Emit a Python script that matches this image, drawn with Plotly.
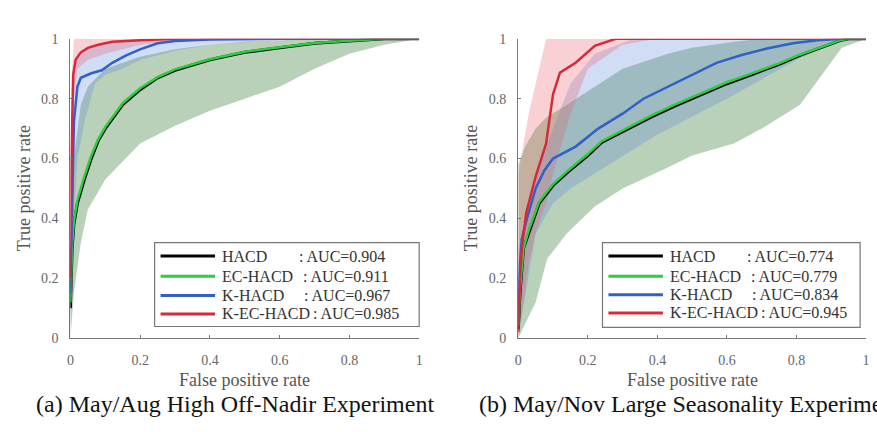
import plotly.graph_objects as go

W, H = 877, 432

# ---------------- data: panel (a) ----------------
a_hacd_x = [0, 0.005, 0.01, 0.02, 0.04, 0.06, 0.08, 0.1, 0.15, 0.2, 0.25, 0.3, 0.4, 0.5, 0.6, 0.7, 0.8, 0.9, 1]
a_hacd_y = [0.1, 0.3, 0.38, 0.45, 0.53, 0.6, 0.66, 0.7, 0.78, 0.83, 0.87, 0.895, 0.93, 0.955, 0.97, 0.985, 0.993, 1, 1]
a_ec_x = [0, 0.005, 0.01, 0.02, 0.04, 0.06, 0.08, 0.1, 0.15, 0.2, 0.25, 0.3, 0.4, 0.5, 0.6, 0.7, 0.8, 0.9, 1]
a_ec_y = [0.12, 0.31, 0.39, 0.46, 0.54, 0.61, 0.665, 0.705, 0.785, 0.835, 0.872, 0.898, 0.932, 0.957, 0.972, 0.986, 0.994, 1, 1]
a_k_x = [0, 0.005, 0.01, 0.02, 0.03, 0.06, 0.09, 0.12, 0.16, 0.2, 0.25, 0.3, 0.4, 0.6, 1]
a_k_y = [0.15, 0.5, 0.72, 0.84, 0.87, 0.885, 0.895, 0.92, 0.945, 0.965, 0.985, 0.993, 0.998, 1, 1]
a_kec_x = [0, 0.003, 0.008, 0.015, 0.03, 0.05, 0.08, 0.12, 0.2, 0.3, 1]
a_kec_y = [0.2, 0.6, 0.88, 0.93, 0.955, 0.97, 0.98, 0.99, 0.995, 1, 1]

a_gband_x = [0, 0.01, 0.03, 0.05, 0.1, 0.2, 0.3, 0.4, 0.5, 0.6, 0.7, 0.8, 0.9, 1]
a_gband_lo = [0, 0.15, 0.32, 0.43, 0.53, 0.65, 0.71, 0.76, 0.8, 0.84, 0.9, 0.95, 0.98, 1]
a_gband_hi = [0.3, 0.6, 0.78, 0.84, 0.9, 0.94, 0.965, 0.98, 0.99, 0.995, 1, 1, 1, 1]
a_bband_x = [0, 0.01, 0.02, 0.04, 0.07, 0.1, 0.15, 0.2, 0.3, 0.4, 0.6, 1]
a_bband_lo = [0, 0.4, 0.6, 0.72, 0.85, 0.88, 0.9, 0.93, 0.96, 0.98, 0.995, 1]
a_bband_hi = [0.4, 0.9, 0.93, 0.96, 0.975, 0.985, 0.993, 1, 1, 1, 1, 1]
a_rband_x = [0, 0.005, 0.01, 0.02, 0.05, 0.1, 0.2, 0.3, 0.4, 1]
a_rband_lo = [0, 0.5, 0.8, 0.9, 0.93, 0.95, 0.98, 0.995, 1, 1]
a_rband_hi = [0.5, 0.9, 1, 1, 1, 1, 1, 1, 1, 1]

# ---------------- data: panel (b) ----------------
b_hacd_x = [0, 0.005, 0.015, 0.03, 0.06, 0.1, 0.145, 0.2, 0.24, 0.3, 0.385, 0.45, 0.53, 0.6, 0.67, 0.75, 0.81, 0.87, 0.925, 0.95, 1]
b_hacd_y = [0.03, 0.15, 0.3, 0.35, 0.45, 0.51, 0.557, 0.61, 0.654, 0.69, 0.74, 0.775, 0.816, 0.85, 0.88, 0.915, 0.945, 0.97, 0.994, 1, 1]
b_ec_x = [0, 0.005, 0.015, 0.03, 0.06, 0.1, 0.145, 0.2, 0.24, 0.3, 0.385, 0.45, 0.53, 0.6, 0.67, 0.75, 0.81, 0.87, 0.925, 0.95, 1]
b_ec_y = [0.04, 0.16, 0.3, 0.36, 0.455, 0.515, 0.562, 0.615, 0.658, 0.695, 0.745, 0.78, 0.82, 0.855, 0.884, 0.918, 0.947, 0.972, 0.995, 1, 1]
b_k_x = [0, 0.005, 0.01, 0.025, 0.05, 0.075, 0.1, 0.165, 0.23, 0.3, 0.36, 0.43, 0.5, 0.57, 0.64, 0.715, 0.79, 0.86, 0.93, 1]
b_k_y = [0.1, 0.25, 0.33, 0.4, 0.5, 0.56, 0.6, 0.64, 0.7, 0.75, 0.8, 0.84, 0.88, 0.92, 0.945, 0.968, 0.985, 0.995, 1, 1]
b_kec_x = [0, 0.005, 0.01, 0.023, 0.05, 0.08, 0.1, 0.12, 0.165, 0.22, 0.28, 1]
b_kec_y = [0.02, 0.2, 0.3, 0.42, 0.54, 0.65, 0.815, 0.887, 0.92, 0.977, 1, 1]

b_gband_x = [0, 0.02, 0.05, 0.083, 0.14, 0.22, 0.3, 0.43, 0.5, 0.62, 0.7, 0.81, 0.93, 1]
b_gband_lo = [0, 0.05, 0.12, 0.265, 0.35, 0.44, 0.5, 0.57, 0.61, 0.65, 0.7, 0.78, 0.97, 1]
b_gband_hi = [0.58, 0.64, 0.7, 0.74, 0.78, 0.84, 0.9, 0.95, 0.97, 0.99, 1, 1, 1, 1]
b_bband_x = [0, 0.05, 0.1, 0.15, 0.22, 0.33, 0.4, 0.6, 0.8, 0.93, 1]
b_bband_lo = [0, 0.35, 0.45, 0.5, 0.55, 0.63, 0.68, 0.8, 0.93, 1, 1]
b_bband_hi = [0.3, 0.55, 0.7, 0.85, 0.95, 1, 1, 1, 1, 1, 1]
b_rband_x = [0, 0.03, 0.05, 0.08, 0.1, 0.15, 0.2, 0.3, 0.4, 1]
b_rband_lo = [0, 0.25, 0.35, 0.45, 0.55, 0.75, 0.9, 0.98, 1, 1]
b_rband_hi = [0.55, 0.75, 0.85, 1, 1, 1, 1, 1, 1, 1]

method_names = ["HACD", "EC-HACD", "K-HACD", "K-EC-HACD"]
a_auc = ["0.904", "0.911", "0.967", "0.985"]
b_auc = ["0.774", "0.779", "0.834", "0.945"]
line_colors = ["#000000", "#2ecc40", "#3060c8", "#d8283a"]

tick_vals = [0, 0.2, 0.4, 0.6, 0.8, 1]
tick_text = ["0", "0.2", "0.4", "0.6", "0.8", "1"]

SERIF = "Liberation Serif, Times New Roman, serif"

fig = go.Figure()


def band(x, lo, hi, color, xa, ya):
    fig.add_trace(go.Scatter(
        x=list(x) + list(x)[::-1], y=list(hi) + list(lo)[::-1],
        fill="toself", fillcolor=color, line=dict(width=0), mode="lines",
        hoverinfo="skip", showlegend=False, xaxis=xa, yaxis=ya))


def curves(xs, ys, aucs, xa, ya):
    for i in range(4):
        fig.add_trace(go.Scatter(
            x=xs[i], y=ys[i], mode="lines",
            line=dict(color=line_colors[i], width=3 if i == 0 else 2.5),
            name=method_names[i] + " : AUC=" + aucs[i], showlegend=False,
            xaxis=xa, yaxis=ya))


# panel a
band(a_gband_x, a_gband_lo, a_gband_hi, "rgba(60,150,60,0.30)", "x", "y")
band(a_gband_x, a_gband_lo, a_gband_hi, "rgba(0,0,0,0.06)", "x", "y")
band(a_bband_x, a_bband_lo, a_bband_hi, "rgba(90,130,220,0.28)", "x", "y")
band(a_rband_x, a_rband_lo, a_rband_hi, "rgba(235,90,100,0.28)", "x", "y")
curves([a_hacd_x, a_ec_x, a_k_x, a_kec_x], [a_hacd_y, a_ec_y, a_k_y, a_kec_y], a_auc, "x", "y")

# panel b
band(b_gband_x, b_gband_lo, b_gband_hi, "rgba(60,150,60,0.30)", "x2", "y2")
band(b_gband_x, b_gband_lo, b_gband_hi, "rgba(0,0,0,0.06)", "x2", "y2")
band(b_bband_x, b_bband_lo, b_bband_hi, "rgba(90,130,220,0.28)", "x2", "y2")
band(b_rband_x, b_rband_lo, b_rband_hi, "rgba(235,90,100,0.28)", "x2", "y2")
curves([b_hacd_x, b_ec_x, b_k_x, b_kec_x], [b_hacd_y, b_ec_y, b_k_y, b_kec_y], b_auc, "x2", "y2")

ydom = [1 - 343 / H, 1 - 33 / H]
axis_common = dict(range=[0, 1], tickvals=tick_vals, ticktext=tick_text,
                   showgrid=False, zeroline=False, showline=True,
                   linecolor="#777", linewidth=1.2, ticks="inside", ticklen=3,
                   tickcolor="#777", tickfont=dict(family=SERIF, size=14, color="#666"))

fig.update_layout(
    width=W, height=H, margin=dict(l=0, r=0, t=0, b=0),
    paper_bgcolor="white", plot_bgcolor="white", showlegend=False,
    font=dict(family=SERIF),
    xaxis=dict(domain=[67 / W, 419 / W], anchor="y", ticklabelstandoff=9, **axis_common),
    yaxis=dict(domain=ydom, anchor="x", ticklabelstandoff=8, **axis_common),
    xaxis2=dict(domain=[519 / W, 870 / W], anchor="y2", ticklabelstandoff=9, **axis_common),
    yaxis2=dict(domain=ydom, anchor="x2", ticklabelstandoff=8, **axis_common),
)


def px_x(v):
    return v / W


def px_y(v):
    return 1 - v / H


# manual legends (box, line samples, labels) in paper coordinates
legend_boxes = [dict(x0=152, x1=419, y0=244, y1=331, line_x0=158, line_x1=213, text_x=218,
                     rows=[258, 279, 299, 318], aucs=a_auc),
                dict(x0=604, x1=864, y0=244, y1=332, line_x0=610, line_x1=665, text_x=670,
                     rows=[258, 279, 298, 317], aucs=b_auc)]
colon_offsets = [78, 82, 83, 92]
for lb in legend_boxes:
    fig.add_shape(type="rect", xref="paper", yref="paper",
                  x0=px_x(lb["x0"]), x1=px_x(lb["x1"]), y0=px_y(lb["y1"]), y1=px_y(lb["y0"]),
                  line=dict(color="#777", width=1.2), fillcolor="white", layer="above")
    for i in range(4):
        yy = px_y(lb["rows"][i])
        fig.add_shape(type="line", xref="paper", yref="paper",
                      x0=px_x(lb["line_x0"]), x1=px_x(lb["line_x1"]), y0=yy, y1=yy,
                      line=dict(color=line_colors[i], width=3), layer="above")
        fig.add_annotation(text=method_names[i], x=px_x(lb["text_x"]), y=yy,
                           xref="paper", yref="paper", showarrow=False,
                           xanchor="left", yanchor="middle",
                           font=dict(family=SERIF, size=16, color="#333"))
        fig.add_annotation(text=": AUC=" + lb["aucs"][i], x=px_x(lb["text_x"] + colon_offsets[i]), y=yy,
                           xref="paper", yref="paper", showarrow=False,
                           xanchor="left", yanchor="middle",
                           font=dict(family=SERIF, size=16, color="#333"))

ann = []
ann.append(dict(text="True positive rate", x=21 / W, y=1 - 188 / H, textangle=-90))
ann.append(dict(text="True positive rate", x=472 / W, y=1 - 188 / H, textangle=-90))
ann.append(dict(text="False positive rate", x=243 / W, y=1 - 386 / H))
ann.append(dict(text="False positive rate", x=695 / W, y=1 - 386 / H))
for a in ann:
    a.update(xref="paper", yref="paper", showarrow=False, xanchor="center", yanchor="middle",
             font=dict(family=SERIF, size=18, color="#555"))
    fig.add_annotation(**a)

fig.add_annotation(text="(a) May/Aug High Off-Nadir Experiment", x=233 / W, y=1 - 411 / H,
                   xref="paper", yref="paper", showarrow=False, xanchor="center", yanchor="middle",
                   font=dict(family=SERIF, size=24, color="#111"))
fig.add_annotation(text="(b) May/Nov Large Seasonality Experiment", x=477 / W, y=1 - 411 / H,
                   xref="paper", yref="paper", showarrow=False, xanchor="left", yanchor="middle",
                   font=dict(family=SERIF, size=24, color="#111"))

fig.write_html("out.html")
